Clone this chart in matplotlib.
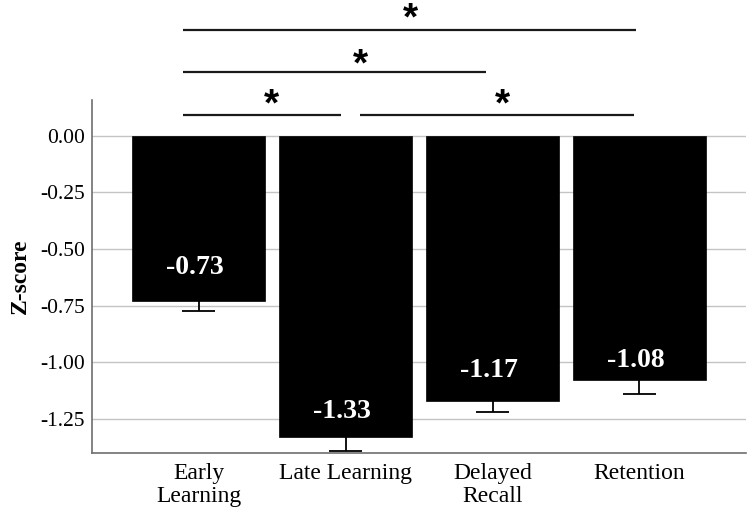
import matplotlib
matplotlib.use("Agg")
import matplotlib.pyplot as plt

# ---- data ----
categories = ["Early\nLearning", "Late Learning", "Delayed\nRecall", "Retention"]
means = [-0.73, -1.33, -1.17, -1.08]
errors = [0.045, 0.06, 0.05, 0.06]
value_labels = ["-0.73", "-1.33", "-1.17", "-1.08"]
yticks = [0.00, -0.25, -0.50, -0.75, -1.00, -1.25]
ytick_labels = ["0.00", "-0.25", "-0.50", "-0.75", "-1.00", "-1.25"]

# significance brackets: (x start, x end, line y, star x, star y)
sig_lines = [
    (-0.104, 2.973, 0.465, 1.442, 0.546),
    (-0.104, 1.959, 0.281, 1.100, 0.343),
    (-0.104, 0.971, 0.091, 0.495, 0.166),
    (1.101, 2.960, 0.091, 2.068, 0.166),
]
label_y = [-0.583, -1.217, -1.036, -0.992]

serif = ["Liberation Serif", "DejaVu Serif"]

fig = plt.figure(figsize=(7.5, 5.08), dpi=100)
ax = fig.add_axes([0.1227, 0.1083, 0.8720, 0.6949])

x = list(range(len(categories)))
ax.bar(x, means, width=0.9, color="black", edgecolor="black", linewidth=0.5, zorder=3)
lower = [m - e for m, e in zip(means, errors)]
ax.vlines(x, means, lower, color="black", linewidth=1.3, zorder=4)
for xi, lo in zip(x, lower):
    ax.plot([xi - 0.115, xi + 0.115], [lo, lo], color="black", linewidth=1.3, zorder=4,
            solid_capstyle="butt")

for xi, ly, t in zip(x, label_y, value_labels):
    ax.text(xi - 0.025, ly, t, color="white", ha="center", va="center",
            fontsize=20, fontweight="bold", family=serif, zorder=5)

star_drop = 0.032
for x0, x1, ly, sx, sy in sig_lines:
    ax.plot([x0, x1], [ly, ly], color="#1a1a1a", linewidth=1.6, clip_on=False,
            solid_capstyle="butt")
    ax.text(sx, sy - star_drop, "*", ha="center", va="center", fontsize=28,
            fontweight="bold", family=["Liberation Sans", "DejaVu Sans"], clip_on=False)

ax.set_xlim(-0.725, 3.725)
ax.set_ylim(-1.400, 0.158)
ax.set_yticks(yticks)
ax.set_yticklabels(ytick_labels, family=serif, fontsize=15.5)
ax.set_xticks(x)
ax.set_xticklabels(categories, family=serif, fontsize=17, linespacing=1.12)
ax.tick_params(axis="both", length=0)
ax.tick_params(axis="y", pad=5)
ax.tick_params(axis="x", pad=7)
ax.set_ylabel("Z-score", family=serif, fontsize=17, fontweight="bold", labelpad=7)

ax.grid(axis="y", color="#c4c4c4", linewidth=1.0, zorder=0)
ax.set_axisbelow(True)
for s in ["top", "right"]:
    ax.spines[s].set_visible(False)
for s in ["left", "bottom"]:
    ax.spines[s].set_color("#6e6e6e")
    ax.spines[s].set_linewidth(1.2)

fig.savefig("out.png", dpi=100)
